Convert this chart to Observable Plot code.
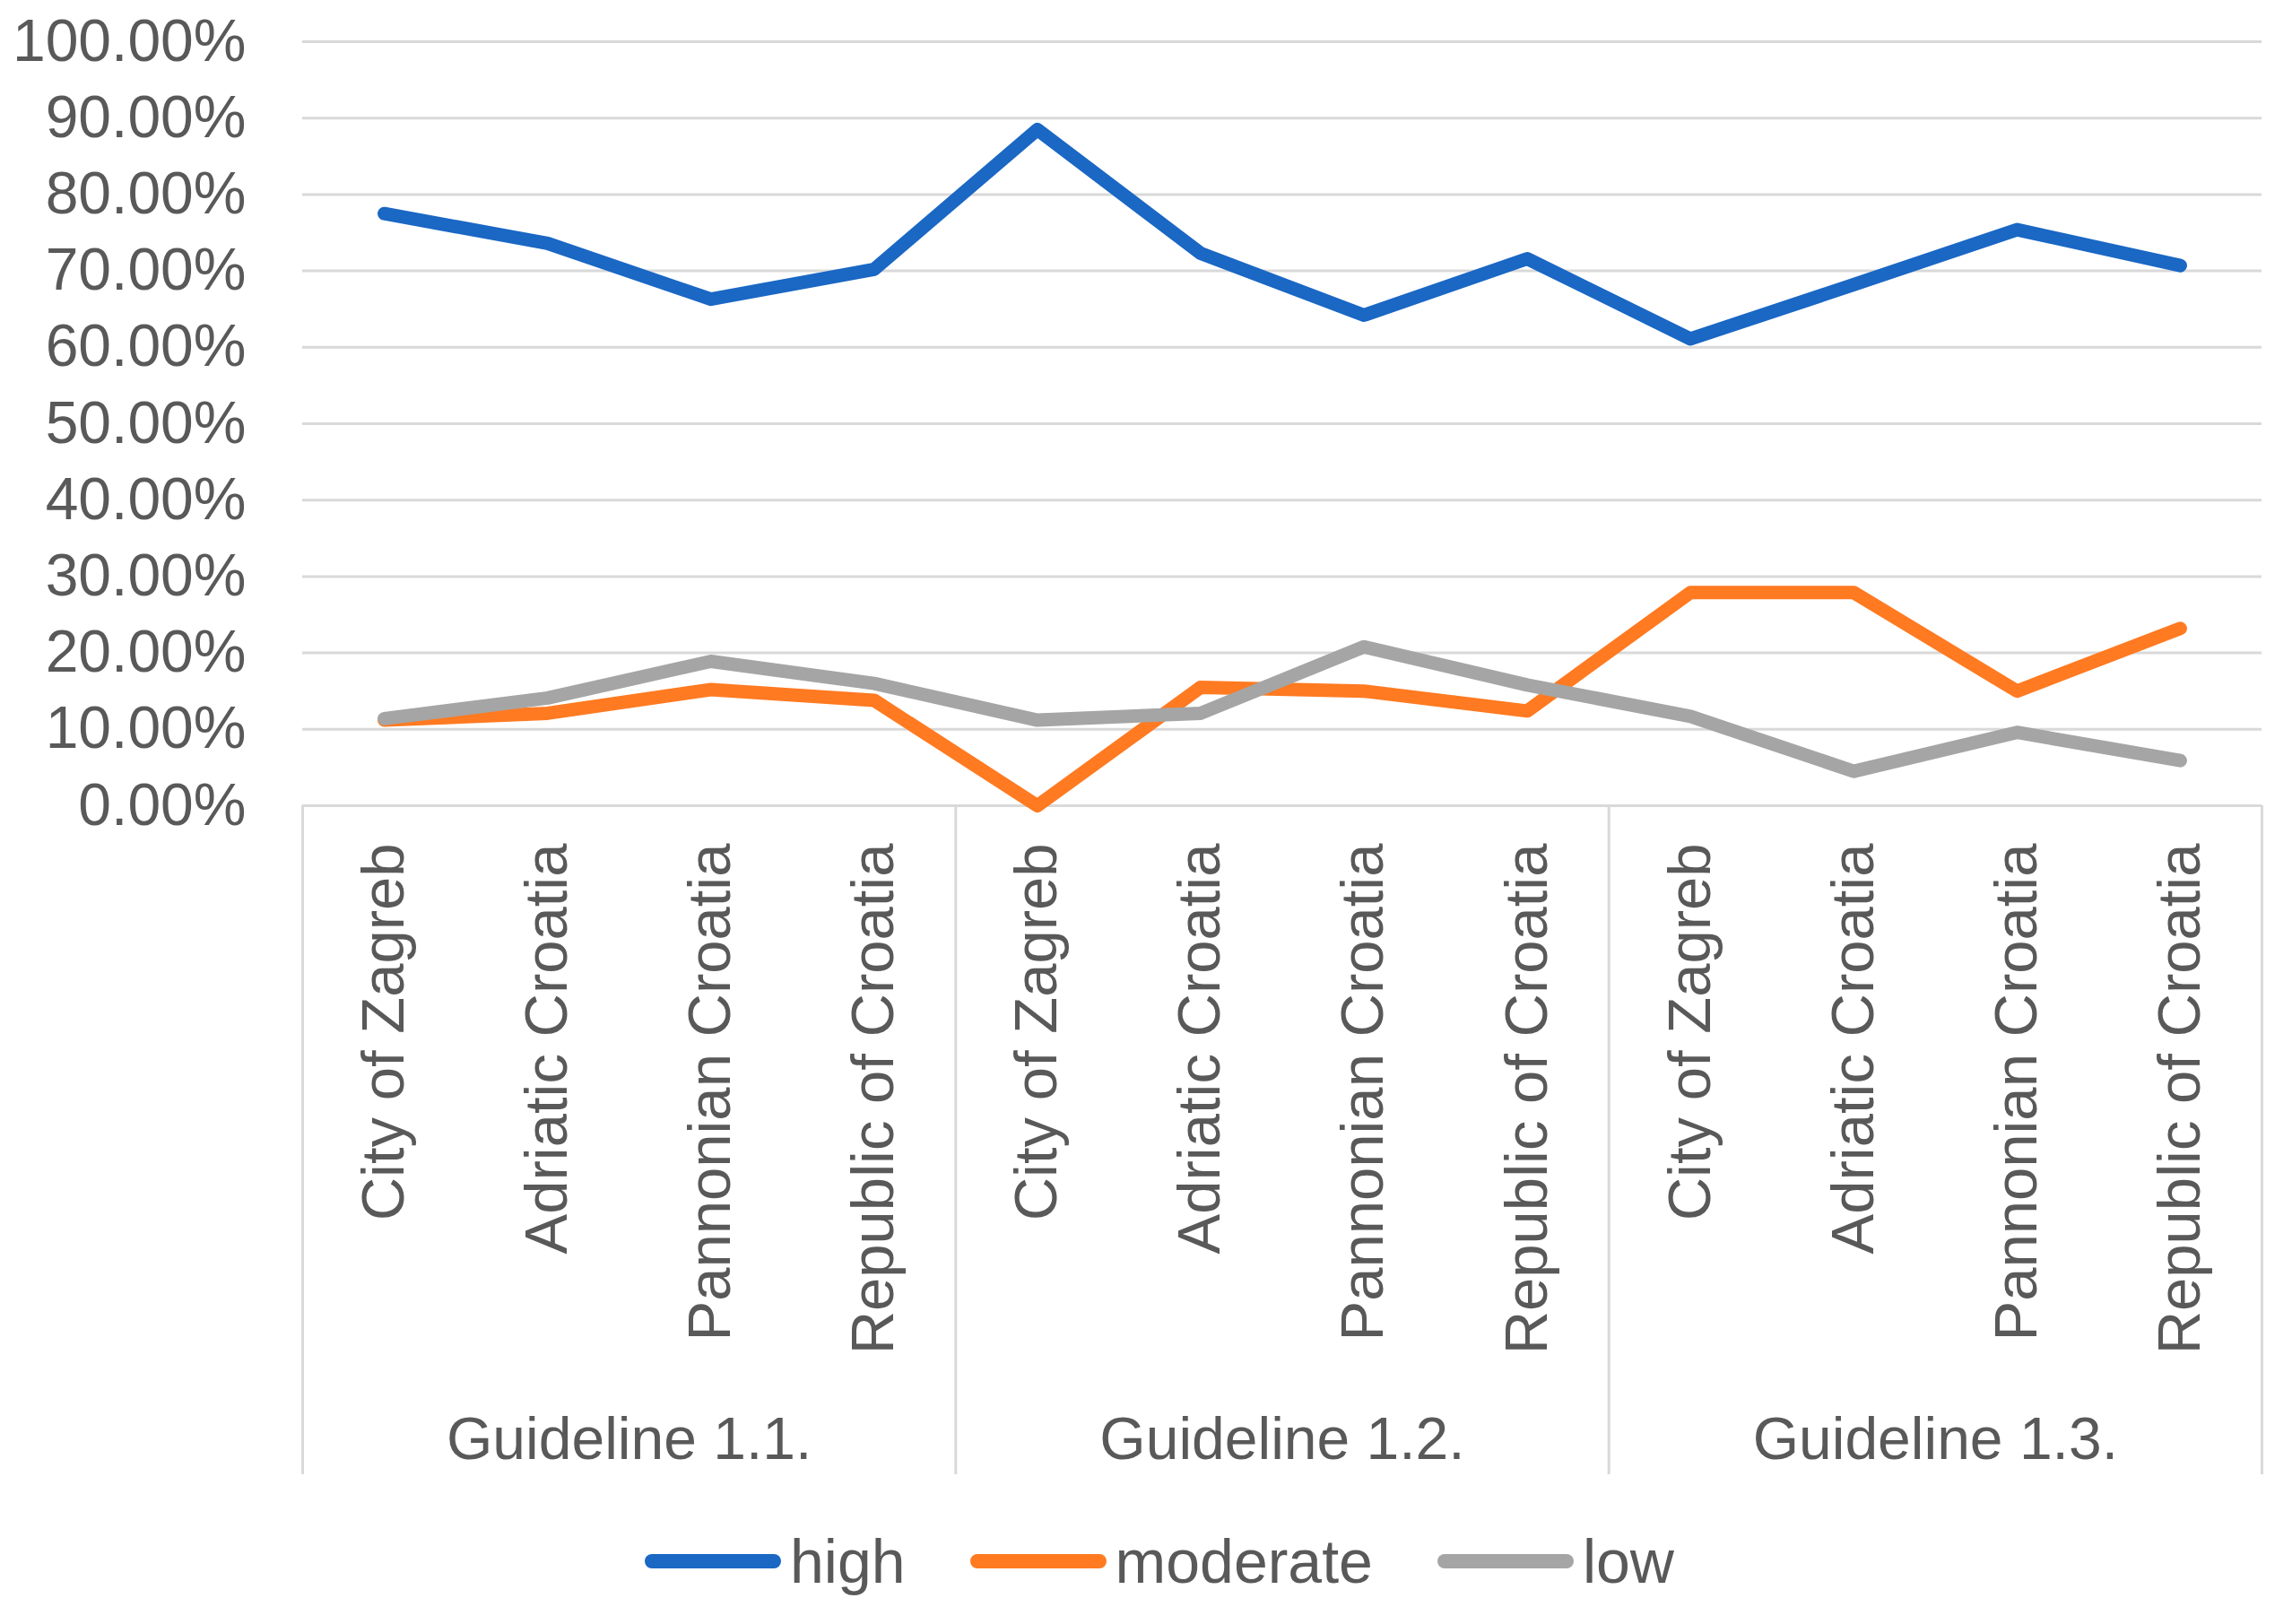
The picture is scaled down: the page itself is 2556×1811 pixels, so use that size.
<!DOCTYPE html>
<html>
<head>
<meta charset="utf-8">
<script src="https://cdn.jsdelivr.net/npm/d3@7"></script>
<script src="https://cdn.jsdelivr.net/npm/@observablehq/plot@0.6"></script>
<style>
  html, body { margin: 0; padding: 0; background: #fff; }
  body { width: 2556px; font-family: "Liberation Sans", Arial, sans-serif; color: #595959; }
  #legend { height: 122px; display: flex; align-items: center; justify-content: center; font-size: 68px; padding-left: 30px; }
  .item { display: flex; align-items: center; }
  .swatch { width: 152px; height: 16px; border-radius: 8px; margin-right: 10px; }
  .item + .item { margin-left: 72px; }
</style>
</head>
<body>
<div id="chart"></div>
<div id="legend"></div>
<script>
const guidelines = ["Guideline 1.1.", "Guideline 1.2.", "Guideline 1.3."];
const regions = ["City of Zagreb", "Adriatic Croatia", "Pannonian Croatia", "Republic of Croatia"];
const seriesNames = ["high", "moderate", "low"];
const seriesColors = ["#1A67C4", "#FF7A21", "#A5A5A5"];
const high =     [77.5, 73.6, 66.3, 70.2, 88.5, 72.3, 64.2, 71.6, 61.1, 68.2, 75.4, 70.7];
const moderate = [11.2, 12.1, 15.2, 13.8, 0.0, 15.5, 15.0, 12.4, 27.9, 27.9, 15.0, 23.2];
const low =      [11.4, 14.1, 18.9, 16.0, 11.2, 12.1, 20.8, 15.8, 11.7, 4.5, 9.6, 5.9];
const yTicks = [0, 10, 20, 30, 40, 50, 60, 70, 80, 90, 100];

const seriesValues = [high, moderate, low];
const rows = [];
seriesNames.forEach((s, k) => {
  seriesValues[k].forEach((v, i) => {
    rows.push({series: s, idx: i, guideline: guidelines[Math.floor(i / regions.length)], region: regions[i % regions.length], value: v});
  });
});
const indices = d3.range(guidelines.length * regions.length);
const groups = guidelines.map((g, j) => ({
  name: g,
  center: d3.mean(indices.filter(i => Math.floor(i / regions.length) === j))
}));
const dividers = d3.range(guidelines.length + 1).map(j => j * regions.length - 0.5);

const W = 2556, H = 1680;
const chart = Plot.plot({
  width: W,
  height: H,
  marginLeft: 337,
  marginRight: 34,
  marginTop: 46,
  marginBottom: H - 898,
  style: {fontFamily: '"Liberation Sans", Arial, sans-serif', color: "#595959", background: "#fff"},
  x: {type: "linear", domain: [-0.5, indices.length - 0.5]},
  y: {domain: [0, 100]},
  color: {domain: seriesNames, range: seriesColors},
  marks: [
    Plot.gridY(yTicks, {stroke: "#D9D9D9", strokeOpacity: 1, strokeWidth: 3}),
    Plot.ruleX(dividers, {x: d => d, y1: 0, y2: 0, insetBottom: -746, stroke: "#D9D9D9", strokeWidth: 3}),
    Plot.axisY(yTicks, {tickSize: 0, tickPadding: 63, fontSize: 66, tickFormat: d => d.toFixed(2) + "%", label: null}),
    Plot.axisX(indices, {tickSize: 0, tickPadding: 42, fontSize: 67, tickRotate: -90, textAnchor: "end",
      tickFormat: i => regions[i % regions.length], label: null}),
    Plot.text(groups, {x: "center", text: "name", frameAnchor: "bottom", dy: 707, lineAnchor: "middle", fontSize: 66, fill: "#595959"}),
    Plot.line(rows, {x: "idx", y: "value", z: "series", stroke: "series", strokeWidth: 15,
      strokeLinecap: "round", strokeLinejoin: "round"})
  ]
});
document.getElementById("chart").appendChild(chart);

const legend = document.getElementById("legend");
seriesNames.forEach((s, k) => {
  const item = document.createElement("div");
  item.className = "item";
  const sw = document.createElement("div");
  sw.className = "swatch";
  sw.style.background = seriesColors[k];
  const lab = document.createElement("span");
  lab.textContent = s;
  item.appendChild(sw);
  item.appendChild(lab);
  legend.appendChild(item);
});
</script>
</body>
</html>
